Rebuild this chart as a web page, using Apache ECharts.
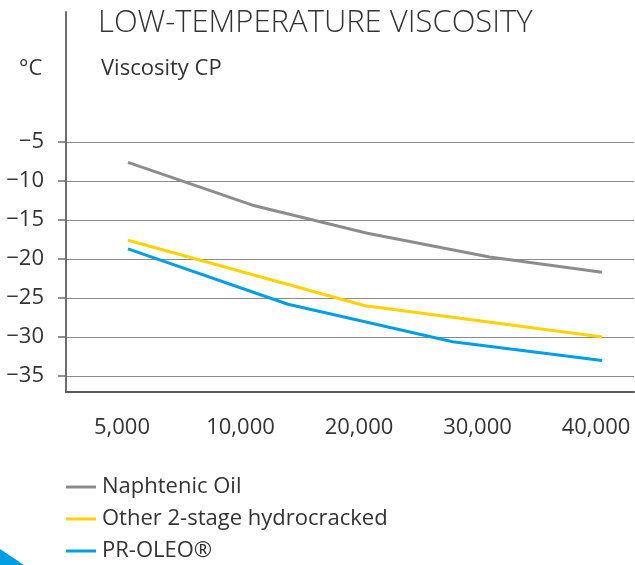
<!DOCTYPE html>
<html>
<head>
<meta charset="utf-8">
<script src="https://cdn.jsdelivr.net/npm/echarts@6/dist/echarts.min.js"></script>
<style>
html,body{margin:0;padding:0;background:#fff;}
#c{width:635px;height:565px;}
</style>
</head>
<body>
<div id="c"></div>
<script>
// Categories (viscosity, cP) — placed at index positions 1..5
const categories = ['5,000', '10,000', '20,000', '30,000', '40,000'];
const categoryPos = [1, 2, 3, 4, 5];
const yTicks = [-35, -30, -25, -20, -15, -10, -5];

// Series points: [category index position, temperature °C]
const naphtenicX = [1, 2.05, 3.02, 4.05, 5];
const naphtenicY = [-7.6, -13.1, -16.7, -19.75, -21.7];
const otherX = [1, 3, 5];
const otherY = [-17.6, -26.0, -30.0];
const oleoX = [1, 2.35, 3.74, 5];
const oleoY = [-18.7, -25.8, -30.6, -33.0];

const seriesNames = ['Naphtenic Oil', 'Other 2-stage hydrocracked', 'PR-OLEO®'];
const colors = ['#8c8c8c', '#ffd200', '#009fe3'];

function pairs(xs, ys) { return xs.map((x, i) => [x, ys[i]]); }

const FONT = '"Open Sans", "Noto Sans", sans-serif';
const chart = echarts.init(document.getElementById('c'), null, {renderer: 'canvas'});

const option = {
  animation: false,
  backgroundColor: '#fff',
  title: [
    {text: 'LOW-TEMPERATURE VISCOSITY', left: 98, top: 8, padding: 0,
     textStyle: {fontFamily: FONT, fontWeight: 300, fontSize: 31, color: '#333'}},
    {text: 'Viscosity CP', left: 101, top: 58, padding: 0,
     textStyle: {fontFamily: FONT, fontWeight: 'normal', fontSize: 22, color: '#333'}},
    {text: '°C', left: 19, top: 58, padding: 0,
     textStyle: {fontFamily: FONT, fontWeight: 'normal', fontSize: 22, color: '#333'}}
  ],
  legend: {
    orient: 'vertical', left: 66, top: 476, padding: 0,
    itemWidth: 30, itemHeight: 3, itemGap: 10,
    icon: 'rect',
    textStyle: {fontFamily: FONT, fontSize: 22, color: '#333', lineHeight: 22, padding: [0, 0, 0, 1]},
    data: seriesNames
  },
  grid: {left: 66, right: 1, top: 12, bottom: 173, containLabel: false, outerBoundsMode: 'none'},
  xAxis: {
    type: 'value', min: 0.4768, max: 5.27,
    axisLine: {show: true, onZero: false, lineStyle: {color: '#5a5a5a', width: 2}},
    axisTick: {show: false},
    splitLine: {show: false},
    axisLabel: {
      customValues: categoryPos,
      margin: 25,
      padding: [0, 12, 0, 0],
      fontFamily: FONT, fontSize: 22, color: '#333',
      formatter: v => categories[categoryPos.indexOf(Math.round(v))] || ''
    }
  },
  yAxis: {
    type: 'value', min: -37.05, max: 11.67,
    axisLine: {show: true, onZero: false, lineStyle: {color: '#6e6e6e', width: 2}},
    axisTick: {show: true, customValues: yTicks, length: 8, lineStyle: {color: '#6e6e6e', width: 1.5}},
    splitLine: {show: true, lineStyle: {color: '#8a8a8a', width: 1}},
    axisLabel: {
      customValues: yTicks,
      margin: 22,
      fontFamily: FONT, fontSize: 22, color: '#333',
      formatter: v => String(v).replace('-', '\u2212')
    }
  },
  series: [
    {name: seriesNames[0], type: 'line', data: pairs(naphtenicX, naphtenicY), showSymbol: false, symbol: 'none',
     lineStyle: {color: colors[0], width: 3}, itemStyle: {color: colors[0]}},
    {name: seriesNames[1], type: 'line', data: pairs(otherX, otherY), showSymbol: false, symbol: 'none',
     lineStyle: {color: colors[1], width: 3}, itemStyle: {color: colors[1]}},
    {name: seriesNames[2], type: 'line', data: pairs(oleoX, oleoY), showSymbol: false, symbol: 'none',
     lineStyle: {color: colors[2], width: 3}, itemStyle: {color: colors[2]}}
  ],
  graphic: [
    {type: 'polygon', shape: {points: [[0, 549], [24, 565], [0, 565]]}, style: {fill: '#009fe3'}, silent: true}
  ]
};
chart.setOption(option);
</script>
</body>
</html>
